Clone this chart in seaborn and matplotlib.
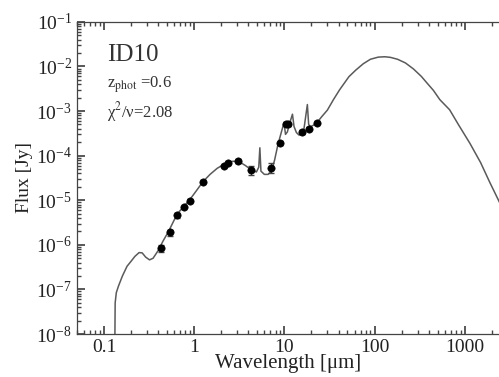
import seaborn as sns
import matplotlib.pyplot as plt
import matplotlib.ticker as mticker
import pandas as pd

# photometry (observed frame)
wave_obs = [0.43, 0.54, 0.64, 0.78, 0.90, 1.26, 2.15, 2.4, 3.1, 4.3, 7.2, 9.0, 10.5, 11.0, 15.8, 19.0, 23.0]
flux_obs = [8.5e-7, 1.9e-6, 4.7e-6, 7.1e-6, 9.8e-6, 2.6e-5, 5.9e-5, 6.9e-5, 7.6e-5, 4.8e-5,
            5.4e-5, 1.9e-4, 5.1e-4, 5.1e-4, 3.4e-4, 4.0e-4, 5.5e-4]
flux_err = [1.5e-7, 3e-7, 6e-7, 5e-7, 8e-7, 2e-6, 4e-6, 5e-6, 6e-6, 1.2e-5,
            1.3e-5, 2e-5, 5e-5, 5e-5, 3e-5, 3e-5, 4e-5]

# best-fit template
wave_mod = [0.131, 0.133, 0.137, 0.145, 0.16, 0.18, 0.20, 0.22, 0.245, 0.265, 0.29, 0.32, 0.35,
            0.40, 0.45, 0.52, 0.60, 0.68, 0.78, 0.90, 1.05, 1.25, 1.5, 1.8, 2.2, 2.7, 3.2, 3.7,
            4.3, 4.9, 5.2, 5.35, 5.5, 6.0, 6.6, 7.2, 7.8, 8.5, 9.2, 9.9, 10.3, 10.8, 11.5, 12.3,
            12.8, 13.6, 14.5, 15.5, 16.5, 18.0, 18.6, 19.5, 21.0, 23.0, 26.0, 30.0, 35.0, 41.0,
            52.0, 62.0, 75.0, 90.0, 110.0, 130.0, 150.0, 180.0, 220.0, 270.0, 330.0, 380.0,
            450.0, 530.0, 680.0, 850.0, 1140.0, 1500.0, 1900.0, 2500.0]
flux_mod = [1e-9, 5e-8, 8.5e-8, 1.2e-7, 2.0e-7, 3.3e-7, 4.3e-7, 5.5e-7, 6.7e-7, 6.6e-7, 5.3e-7,
            4.6e-7, 5.0e-7, 7.5e-7, 1.2e-6, 2.0e-6, 3.6e-6, 5.5e-6, 7.5e-6, 1.05e-5, 1.6e-5,
            2.6e-5, 3.8e-5, 5.2e-5, 6.6e-5, 7.5e-5, 7.2e-5, 6.0e-5, 4.8e-5, 4.3e-5, 5.5e-5,
            1.5e-4, 4.5e-5, 3.8e-5, 3.8e-5, 4.5e-5, 8e-5, 1.8e-4, 3.2e-4, 5.5e-4, 3.0e-4,
            3.4e-4, 5.5e-4, 8.5e-4, 4.5e-4, 3.3e-4, 2.9e-4, 3.0e-4, 4.0e-4, 1.4e-3, 5.0e-4,
            4.5e-4, 4.8e-4, 5.5e-4, 7.5e-4, 1.05e-3, 1.8e-3, 3.0e-3, 5.9e-3, 8.3e-3, 1.15e-2,
            1.45e-2, 1.62e-2, 1.65e-2, 1.6e-2, 1.45e-2, 1.2e-2, 8.8e-3, 6.0e-3, 4.3e-3, 2.9e-3,
            1.8e-3, 1.07e-3, 5.0e-4, 1.9e-4, 7e-5, 2.5e-5, 8e-6]

sns.set_theme(style='ticks')
plt.rcParams['font.family'] = ['Liberation Serif', 'DejaVu Serif']
plt.rcParams['mathtext.fontset'] = 'stix'

model = pd.DataFrame({'wave': wave_mod, 'flux': flux_mod})
phot = pd.DataFrame({'wave': wave_obs, 'flux': flux_obs, 'err': flux_err})

fig = plt.figure(figsize=(4.99, 3.77), dpi=100)
ax = fig.add_axes([0.154, 0.114, 0.846, 0.828])

sns.lineplot(data=model, x='wave', y='flux', sort=False, color='#5a5a5a', lw=1.1, ax=ax)
ax.errorbar(phot['wave'], phot['flux'], yerr=phot['err'], fmt='none', ecolor='#444444',
            elinewidth=0.8, capsize=2, zorder=3)
sns.scatterplot(data=phot, x='wave', y='flux', color='black', s=28, edgecolor='black', zorder=4, ax=ax)

ax.set_xscale('log')
ax.set_yscale('log')
ax.set_xlim(0.05, 2400)
ax.set_ylim(1e-8, 1e-1)

ax.set_xlabel('Wavelength [μm]', fontsize=15, labelpad=-1, color='#222222')
ax.set_ylabel('Flux [Jy]', fontsize=14, labelpad=2, color='#222222')

ax.spines['right'].set_visible(False)
for s in ['left', 'bottom', 'top']:
    ax.spines[s].set_color('#444444')
    ax.spines[s].set_linewidth(0.9)
ax.tick_params(which='both', direction='in', top=True, right=False, color='#444444')
ax.tick_params(which='major', length=6, labelsize=14, labelcolor='#222222')
ax.tick_params(which='minor', length=3)
ax.set_xticks([0.1, 1, 10, 100, 1000])
ax.set_xticklabels(['0.1', '1', '10', '100', '1000'])
ax.xaxis.set_minor_formatter(mticker.NullFormatter())
ax.yaxis.set_minor_formatter(mticker.NullFormatter())

ax.text(0.071, 0.93, 'ID10', transform=ax.transAxes, fontsize=18, va='top', color='#333333')
ax.text(0.071, 0.80, 'z$_{\\rm phot}$ =0.6', transform=ax.transAxes, fontsize=12, va='center', color='#333333')
ax.text(0.071, 0.71, 'χ$^{2}$/ν=2.08', transform=ax.transAxes, fontsize=12, va='center', color='#333333')

plt.savefig('out.png', dpi=100)
